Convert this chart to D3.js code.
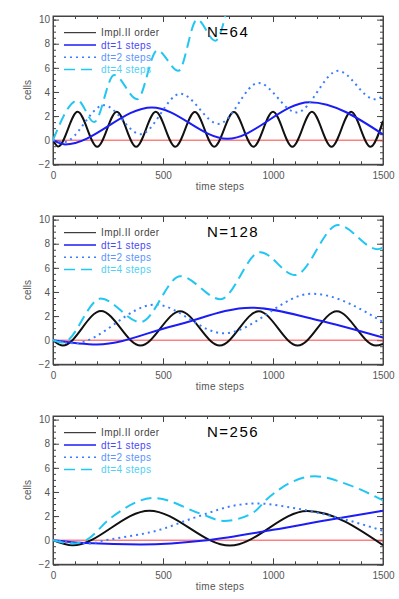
<!DOCTYPE html>
<html>
<head>
<meta charset="utf-8">
<script src="https://cdn.jsdelivr.net/npm/d3@7"></script>
<style>
  body { margin: 0; background: #fff; }
  text { font-family: "Liberation Sans", Arial, sans-serif; }
</style>
</head>
<body>
<div id="chart"></div>
<script>
// Data, [time step, cells]

var panelTitles = ["N=64", "N=128", "N=256"];
var legendLabels = ["Impl.II order", "dt=1 steps", "dt=2 steps", "dt=4 steps"];
var xTicks = [0, 500, 1000, 1500];
var yTicks = [-2, 0, 2, 4, 6, 8, 10];

// N=64
var impl64 = [[0,0],[24,-0.52],[112,2.35],[201,-0.55],[290,2.35],[378,-0.55],[467,2.35],[556,-0.55],[645,2.33],[733,-0.55],[822,2.33],[911,-0.55],[1000,2.35],[1088,-0.55],[1177,2.35],[1266,-0.55],[1355,2.35],[1443,-0.55],[1500,1.6]];
var dt1_64 = [[0,0],[55,-0.35],[450,2.72],[792,0.12],[1166,3.15],[1500,0.48]];
var dt2_64 = [[0,0],[50,-0.15],[232,2.9],[398,0.5],[579,3.85],[753,1.35],[934,4.75],[1108,2.3],[1296,5.75],[1462,3.4],[1500,3.65]];
var dt4_64 = [[0,0],[112,3.3],[187,1.5],[278,5.4],[383,3.4],[474,7.45],[570,5.75],[655,10.0],[738,8.25],[790,10.8]];

// N=128
var impl128 = [[0,0],[45,-0.45],[218,2.42],[398,-0.45],[578,2.4],[758,-0.45],[935,2.4],[1112,-0.45],[1290,2.4],[1468,-0.45],[1500,-0.32]];
var dt1_128 = [[0,0],[200,-0.35],[550,1.2],[900,2.7],[1200,1.68],[1500,0.22]];
var dt2_128 = [[0,0],[97,-0.25],[464,2.95],[776,0.57],[1176,3.85],[1500,1.5]];
var dt4_128 = [[0,0],[45,-0.2],[217,3.45],[398,1.5],[579,5.3],[761,3.4],[942,7.3],[1100,5.4],[1296,9.55],[1475,7.55],[1500,7.7]];

// N=256
var impl256 = [[0,0],[89,-0.43],[438,2.45],[804,-0.45],[1156,2.42],[1500,-0.42]];
var dt1_256 = [[0,0],[150,-0.24],[400,-0.35],[700,0],[1000,0.86],[1250,1.68],[1500,2.45]];
var dt2_256 = [[0,0],[160,-0.28],[240,0],[489,0.88],[640,1.85],[851,2.95],[926,3.05],[1100,2.65],[1300,1.85],[1500,0.78]];
var dt4_256 = [[0,0],[90,-0.28],[150,0],[263,1.85],[459,3.5],[670,2.2],[776,1.6],[911,2.3],[972,3.4],[1190,5.3],[1350,4.55],[1500,3.3]];

var panelSeries = [
	[impl64, dt1_64, dt2_64, dt4_64],
	[impl128, dt1_128, dt2_128, dt4_128],
	[impl256, dt1_256, dt2_256, dt4_256]
];

// line styles, in legend order
var styles = [
	{stroke: "#111", dash: null, text: "#444"},
	{stroke: "#1c1cf5", dash: null, text: "#4a4af5"},
	{stroke: "#3a7dff", dash: "2,4", text: "#5a94ff"},
	{stroke: "#22c6f2", dash: "11,6", text: "#4fd0f5"}
];

var width = 399;
var height = 599;
var left = 53;
var right = 383;
var panelTops = [16, 216, 416];
var panelH = 148.3;

var svg = d3.select("#chart")
	.append("svg")
	.attr("width", width)
	.attr("height", height);

var x = d3.scaleLinear()
	.domain([0, 1500])
	.range([left, right]);

var line = d3.line()
	.x(d => x(d[0]))
	.curve(d3.curveMonotoneX);

panelSeries.forEach(function(series, p){
	var top = panelTops[p];
	var bottom = top + panelH;

	var y = d3.scaleLinear()
		.domain([-2, 10.3])
		.range([bottom, top]);

	var g = svg.append("g").attr("class", "panel");

	g.append("clipPath")
		.attr("id", "clip" + p)
		.append("rect")
		.attr("x", left)
		.attr("y", top)
		.attr("width", right - left)
		.attr("height", panelH);

	// axes, ticks pointing inward like the original
	var minorX = d3.range(0, 1501, 100);
	var minorY = d3.range(-2, 10.01, 0.5);

	g.append("g")
		.attr("transform", "translate(0," + bottom + ")")
		.call(d3.axisBottom(x).tickValues(minorX).tickSize(-3).tickFormat(""));
	g.append("g")
		.attr("transform", "translate(0," + bottom + ")")
		.call(d3.axisBottom(x).tickValues(xTicks).tickSize(-6).tickPadding(8).tickFormat(d3.format("d")));
	g.append("g")
		.attr("transform", "translate(0," + top + ")")
		.call(d3.axisTop(x).tickValues(minorX).tickSize(-3).tickFormat(""));
	g.append("g")
		.attr("transform", "translate(0," + top + ")")
		.call(d3.axisTop(x).tickValues(xTicks).tickSize(-6).tickFormat(""));

	g.append("g")
		.attr("transform", "translate(" + left + ",0)")
		.call(d3.axisLeft(y).tickValues(minorY).tickSize(-3).tickFormat(""));
	g.append("g")
		.attr("transform", "translate(" + left + ",0)")
		.call(d3.axisLeft(y).tickValues(yTicks).tickSize(-6).tickPadding(3).tickFormat(d3.format("d")));
	g.append("g")
		.attr("transform", "translate(" + right + ",0)")
		.call(d3.axisRight(y).tickValues(minorY).tickSize(-3).tickFormat(""));
	g.append("g")
		.attr("transform", "translate(" + right + ",0)")
		.call(d3.axisRight(y).tickValues(yTicks).tickSize(-6).tickFormat(""));

	g.selectAll(".domain").attr("stroke", "#444");
	g.selectAll(".tick line").attr("stroke", "#444");
	g.selectAll(".tick text")
		.attr("fill", "#555")
		.style("font-size", "10px")
		.style("font-family", "'Liberation Sans', Arial, sans-serif");

	// frame
	g.append("rect")
		.attr("x", left)
		.attr("y", top)
		.attr("width", right - left)
		.attr("height", panelH)
		.attr("fill", "none")
		.attr("stroke", "#444");

	g.append("text")
		.attr("x", (left + right) / 2 + 2)
		.attr("y", bottom + 26)
		.attr("text-anchor", "middle")
		.attr("fill", "#555")
		.style("font-size", "10px")
		.style("letter-spacing", "0.3px")
		.text("time steps");

	g.append("text")
		.attr("transform", "translate(" + 31 + "," + (top + 74) + ") rotate(-90)")
		.attr("text-anchor", "middle")
		.attr("fill", "#555")
		.style("font-size", "10px")
		.text("cells");

	var plot = g.append("g").attr("clip-path", "url(#clip" + p + ")");

	// zero line
	plot.append("line")
		.attr("x1", left)
		.attr("x2", right)
		.attr("y1", y(0))
		.attr("y2", y(0))
		.attr("stroke", "#ff4040")
		.attr("stroke-width", 1);

	line.y(d => y(d[1]));

	series.forEach(function(s, i){
		plot.append("path")
			.datum(s)
			.attr("d", line)
			.attr("fill", "none")
			.attr("stroke", styles[i].stroke)
			.attr("stroke-width", 2)
			.attr("stroke-dasharray", styles[i].dash);
	});

	// legend
	var legend = g.append("g").attr("class", "legend");
	legendLabels.forEach(function(label, i){
		var ly = top + 16.7 + i * 12.3;
		legend.append("line")
			.attr("x1", 64)
			.attr("x2", 96)
			.attr("y1", ly)
			.attr("y2", ly)
			.attr("stroke", styles[i].stroke)
			.attr("stroke-width", i == 0 ? 1 : 1.5)
			.attr("stroke-dasharray", styles[i].dash);
		legend.append("text")
			.attr("x", 101)
			.attr("y", ly + 3.5)
			.attr("fill", styles[i].text)
			.style("font-size", "10px")
			.style("letter-spacing", "0.4px")
			.text(label);
	});

	g.append("text")
		.attr("x", 207)
		.attr("y", top + 21)
		.attr("fill", "#000")
		.style("font-size", "15px")
		.style("letter-spacing", "1.5px")
		.text(panelTitles[p]);
});
</script>
</body>
</html>
